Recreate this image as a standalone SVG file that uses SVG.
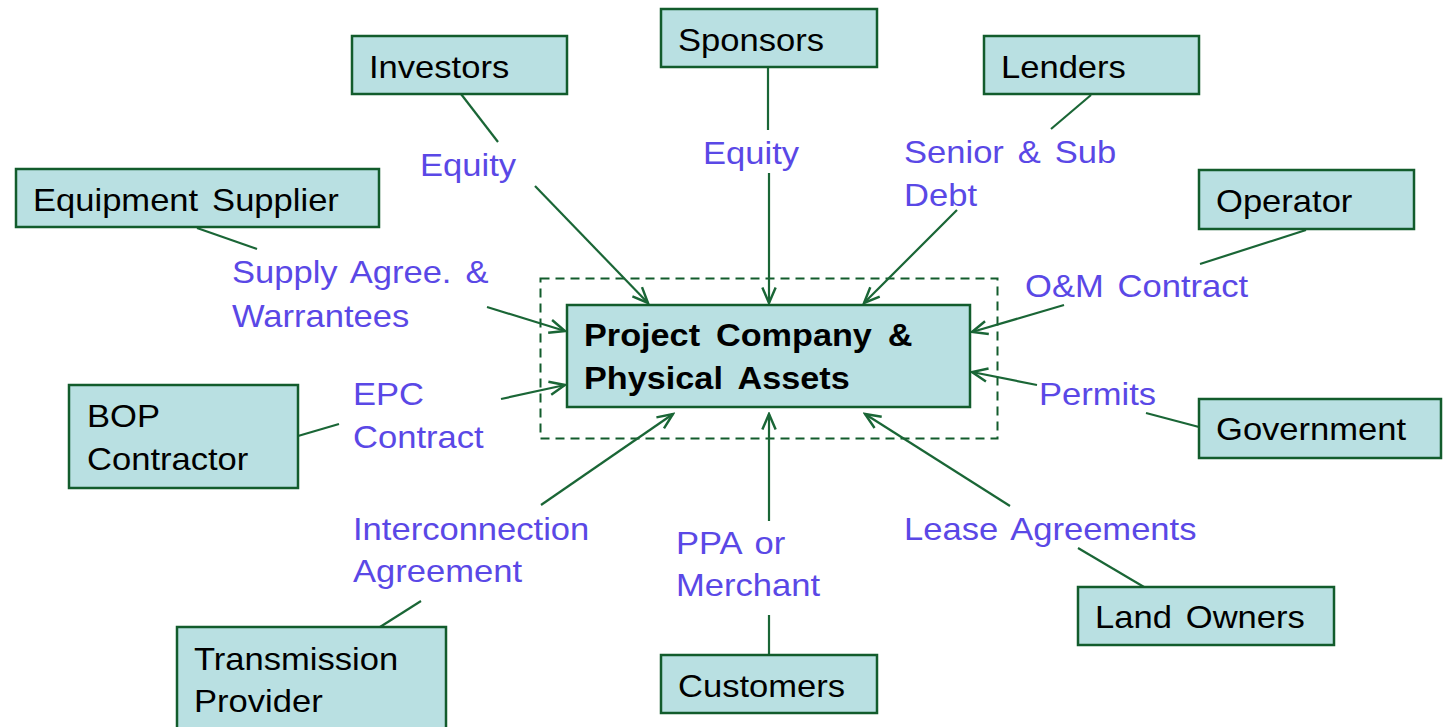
<svg xmlns="http://www.w3.org/2000/svg" width="1445" height="727" viewBox="0 0 1445 727">
  <style>
    .box { fill: #b9e0e2; stroke: #125c2c; stroke-width: 2.5; }
    .frame { fill: none; stroke: #125c2c; stroke-width: 2; stroke-dasharray: 9 6; }
    .name { font-family: "Liberation Sans", Arial, sans-serif; font-size: 32px; fill: #000; word-spacing: 4px; }
    .core { font-family: "Liberation Sans", Arial, sans-serif; font-size: 32px; font-weight: bold; fill: #000; word-spacing: 6px; }
    .lbl { font-family: "Liberation Sans", Arial, sans-serif; font-size: 32px; fill: #5a48e6; word-spacing: 4px; }
    .wire { fill: none; stroke: #1a6636; stroke-width: 2.2; }
  </style>
  <defs>
    <marker id="arrow" markerUnits="userSpaceOnUse" markerWidth="20" markerHeight="20" viewBox="-16 -8 18 16" refX="0" refY="0" orient="auto">
      <path d="M-14,-6 L0,0 L-14,6" fill="none" stroke="#1a6636" stroke-width="2.2"/>
    </marker>
  </defs>

  <rect class="frame" x="540.5" y="278.5" width="457" height="160"/>

  <!-- connectors: box-to-label stubs and label-to-project arrows -->
  <g id="connectors">
    <line class="wire" x1="461" y1="94" x2="498" y2="142"/>
    <line class="wire" x1="535" y1="186" x2="648" y2="303" marker-end="url(#arrow)"/>

    <line class="wire" x1="768" y1="67" x2="768" y2="130"/>
    <line class="wire" x1="769" y1="173" x2="769" y2="303" marker-end="url(#arrow)"/>

    <line class="wire" x1="1091" y1="95" x2="1051" y2="129"/>
    <line class="wire" x1="957" y1="210" x2="864" y2="303" marker-end="url(#arrow)"/>

    <line class="wire" x1="197" y1="228" x2="257" y2="249"/>
    <line class="wire" x1="487" y1="307" x2="565" y2="331" marker-end="url(#arrow)"/>

    <line class="wire" x1="1306" y1="230" x2="1200" y2="264"/>
    <line class="wire" x1="1064" y1="305" x2="972" y2="332" marker-end="url(#arrow)"/>

    <line class="wire" x1="298" y1="436" x2="339" y2="424"/>
    <line class="wire" x1="501" y1="399" x2="565" y2="385" marker-end="url(#arrow)"/>

    <line class="wire" x1="1199" y1="427" x2="1146" y2="413"/>
    <line class="wire" x1="1037" y1="385" x2="972" y2="372" marker-end="url(#arrow)"/>

    <line class="wire" x1="380" y1="627" x2="421" y2="601"/>
    <line class="wire" x1="541" y1="505" x2="673" y2="414" marker-end="url(#arrow)"/>

    <line class="wire" x1="769" y1="655" x2="769" y2="615"/>
    <line class="wire" x1="769" y1="521" x2="769" y2="414" marker-end="url(#arrow)"/>

    <line class="wire" x1="1144" y1="587" x2="1078" y2="548"/>
    <line class="wire" x1="1010" y1="506" x2="865" y2="414" marker-end="url(#arrow)"/>
  </g>

  <!-- parties -->
  <g id="sponsors">
    <rect class="box" x="661" y="9" width="216" height="58"/>
    <text class="name" transform="translate(678 51) scale(1.08 1)">Sponsors</text>
  </g>
  <g id="investors">
    <rect class="box" x="352" y="36" width="215" height="58"/>
    <text class="name" transform="translate(369 78) scale(1.08 1)">Investors</text>
  </g>
  <g id="lenders">
    <rect class="box" x="984" y="36" width="215" height="58"/>
    <text class="name" transform="translate(1001 78) scale(1.08 1)">Lenders</text>
  </g>
  <g id="equipment-supplier">
    <rect class="box" x="16" y="169" width="363" height="58"/>
    <text class="name" transform="translate(33 211) scale(1.08 1)">Equipment Supplier</text>
  </g>
  <g id="operator">
    <rect class="box" x="1199" y="170" width="215" height="59"/>
    <text class="name" transform="translate(1216 212) scale(1.08 1)">Operator</text>
  </g>
  <g id="project-company">
    <rect class="box" x="567" y="305" width="403" height="102"/>
    <text class="core" transform="translate(584 346) scale(1.07 1)">Project Company &amp;<tspan x="0" y="43">Physical Assets</tspan></text>
  </g>
  <g id="bop-contractor">
    <rect class="box" x="69" y="385" width="229" height="103"/>
    <text class="name" transform="translate(87 427) scale(1.08 1)">BOP<tspan x="0" y="43">Contractor</tspan></text>
  </g>
  <g id="government">
    <rect class="box" x="1199" y="399" width="242" height="59"/>
    <text class="name" transform="translate(1216 440) scale(1.08 1)">Government</text>
  </g>
  <g id="land-owners">
    <rect class="box" x="1078" y="587" width="256" height="58"/>
    <text class="name" transform="translate(1095 628) scale(1.08 1)">Land Owners</text>
  </g>
  <g id="transmission-provider">
    <rect class="box" x="177" y="627" width="269" height="110"/>
    <text class="name" transform="translate(194 670) scale(1.08 1)">Transmission<tspan x="0" y="42">Provider</tspan></text>
  </g>
  <g id="customers">
    <rect class="box" x="661" y="655" width="216" height="58"/>
    <text class="name" transform="translate(678 697) scale(1.08 1)">Customers</text>
  </g>

  <!-- agreement labels -->
  <g id="labels">
    <text class="lbl" transform="translate(420 176) scale(1.08 1)">Equity</text>
    <text class="lbl" transform="translate(703 164) scale(1.08 1)">Equity</text>
    <text class="lbl" transform="translate(904 163) scale(1.08 1)">Senior &amp; Sub<tspan x="0" y="43">Debt</tspan></text>
    <text class="lbl" transform="translate(232 283) scale(1.08 1)">Supply Agree. &amp;<tspan x="0" y="44">Warrantees</tspan></text>
    <text class="lbl" transform="translate(1025 297) scale(1.08 1)">O&amp;M Contract</text>
    <text class="lbl" transform="translate(353 405) scale(1.08 1)">EPC<tspan x="0" y="43">Contract</tspan></text>
    <text class="lbl" transform="translate(1039 405) scale(1.08 1)">Permits</text>
    <text class="lbl" transform="translate(353 540) scale(1.08 1)">Interconnection<tspan x="0" y="42">Agreement</tspan></text>
    <text class="lbl" transform="translate(676 554) scale(1.08 1)">PPA or<tspan x="0" y="42">Merchant</tspan></text>
    <text class="lbl" transform="translate(904 540) scale(1.08 1)">Lease Agreements</text>
  </g>
</svg>
